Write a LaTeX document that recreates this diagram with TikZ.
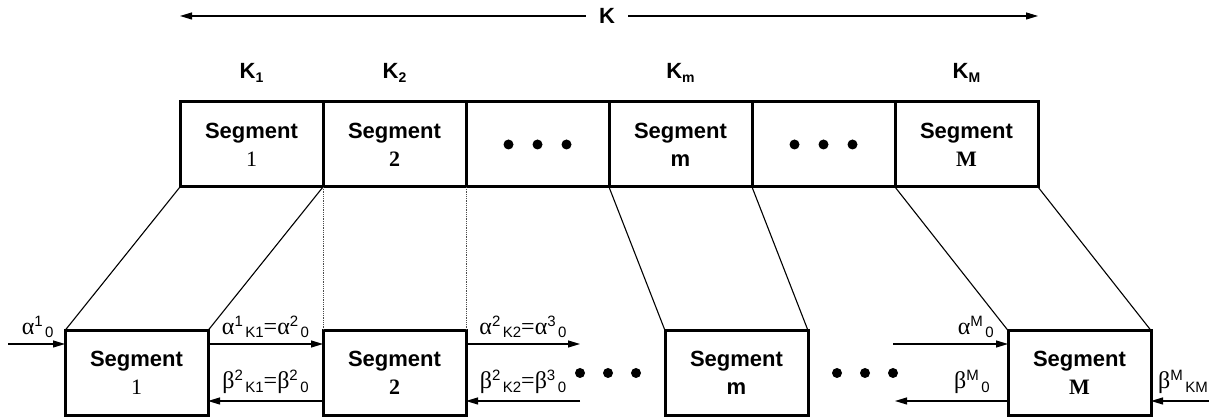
\documentclass[tikz,border=0pt]{standalone}
\usepackage{fontspec}
\setmainfont{Liberation Serif}
\setsansfont{Liberation Sans}
\usepackage{tikz}
\usetikzlibrary{arrows.meta, positioning, calc}

% two-line segment text, sub/superscript helpers
\newcommand{\segtxt}[1]{{\sffamily\bfseries Segment}\\#1}
\newcommand{\ksub}[1]{\raisebox{-0.3ex}{\fontsize{14}{14}\selectfont #1}}
\newcommand{\supsub}[3]{#1\raisebox{0.75ex}{\sffamily\fontsize{15}{15}\selectfont #2\,}\raisebox{-0.3ex}{\sffamily\fontsize{15}{15}\selectfont #3}}

\begin{document}
\begin{tikzpicture}[
    x=1pt, y=1pt,
    seg/.style={draw, line width=3pt, minimum width=143pt, minimum height=85pt,
      align=center, inner sep=0pt, outer sep=0pt, font=\fontsize{22}{28}\selectfont},
    klabel/.style={font=\sffamily\bfseries\fontsize{22}{24}\selectfont, inner sep=0pt},
    flow/.style={line width=1.1pt, -{Triangle[length=12pt,width=7pt]}},
    zoomline/.style={line width=1.1pt},
    zoomdot/.style={line width=0.8pt, densely dotted, black!70},
    flowlabel/.style={font=\fontsize{24}{26}\selectfont, inner sep=0pt},
  ]
    \useasboundingbox (0,0) rectangle (1209,419);

    % ── Top row (whole block K) ──
    \node[seg] (t-s1) at (251.5,274.5) {\segtxt{1}};
    \node[seg, right=0pt of t-s1] (t-s2) {\segtxt{\textbf{2}}};
    \node[seg, right=0pt of t-s2] (t-d1) {};
    \node[seg, right=0pt of t-d1] (t-sm) {\segtxt{\sffamily\bfseries m}};
    \node[seg, right=0pt of t-sm] (t-d2) {};
    \node[seg, right=0pt of t-d2] (t-sM) {\segtxt{\textbf{M}}};
    \foreach \n in {t-d1, t-d2}
      \foreach \dx in {-29,0,29}
        \fill ([xshift=\dx pt]\n.center) circle (5pt);

    % K arrow
    \node[klabel] (k) at (607,403) {K};
    \coordinate (k-left) at (k.center -| t-s1.west);
    \coordinate (k-right) at (k.center -| t-sM.east);
    \draw[flow, shorten <=13pt] (k.west) -- (k-left);
    \draw[flow, shorten <=13pt] (k.east) -- (k-right);

    % segment lengths
    \node[klabel] (k1) at ([yshift=29pt]t-s1.north) {K\ksub{1}};
    \node[klabel] (k2) at ([yshift=29pt]t-s2.north) {K\ksub{2}};
    \node[klabel] (km) at ([yshift=29pt]t-sm.north) {K\ksub{m}};
    \node[klabel] (kM) at ([yshift=29pt]t-sM.north) {K\ksub{M}};

    % ── Bottom row (single segments) ──
    \node[seg] (b-s1) at (136.5,46) {\segtxt{1}};
    \node[seg] (b-s2) at (394.5,46) {\segtxt{\textbf{2}}};
    \node[seg] (b-sm) at (736.5,46) {\segtxt{\sffamily\bfseries m}};
    \node[seg] (b-sM) at (1079.5,46) {\segtxt{\textbf{M}}};
    \foreach \cx in {608,865}
      \foreach \dx in {-28,0,28}
        \fill (\cx+\dx,46) circle (5pt);

    % zoom lines (top -> bottom)
    \draw[zoomline] (t-s1.south west) -- (b-s1.north west);
    \draw[zoomline] (t-s1.south east) -- (b-s1.north east);
    \draw[zoomdot] (t-s2.south west) -- (b-s2.north west);
    \draw[zoomdot] (t-s2.south east) -- (b-s2.north east);
    \draw[zoomline] (t-sm.south west) -- (b-sm.north west);
    \draw[zoomline] (t-sm.south east) -- (b-sm.north east);
    \draw[zoomline] (t-sM.south west) -- (b-sM.north west);
    \draw[zoomline] (t-sM.south east) -- (b-sM.north east);

    % free arrow ends
    \coordinate (a-in) at (8,75);
    \coordinate (a-out2) at (580,75);
    \coordinate (b-in2) at (580,18);
    \coordinate (a-inM) at (893,75);
    \coordinate (b-outM) at (895,18);
    \coordinate (b-inM) at (1209,18);

    % forward (alpha) arrows
    \draw[flow] (a-in) -- ([yshift=29pt]b-s1.west)
      node[flowlabel, pos=0.52, yshift=17pt] {\supsub{α}{1}{0}};
    \draw[flow] ([yshift=29pt]b-s1.east) -- ([yshift=29pt]b-s2.west)
      node[flowlabel, midway, yshift=17pt] {\supsub{α}{1}{K1}=\supsub{α}{2}{0}};
    \draw[flow] ([yshift=29pt]b-s2.east) -- (a-out2)
      node[flowlabel, midway, yshift=17pt] {\supsub{α}{2}{K2}=\supsub{α}{3}{0}};
    \draw[flow] (a-inM) -- ([yshift=29pt]b-sM.west)
      node[flowlabel, pos=0.72, yshift=17pt] {\supsub{α}{M}{0}};

    % backward (beta) arrows
    \draw[flow] ([yshift=-28pt]b-s2.west) -- ([yshift=-28pt]b-s1.east)
      node[flowlabel, midway, yshift=19pt] {\supsub{β}{2}{K1}=\supsub{β}{2}{0}};
    \draw[flow] (b-in2) -- ([yshift=-28pt]b-s2.east)
      node[flowlabel, midway, yshift=19pt] {\supsub{β}{2}{K2}=\supsub{β}{3}{0}};
    \draw[flow] ([yshift=-28pt]b-sM.west) -- (b-outM)
      node[flowlabel, pos=0.32, yshift=19pt] {\supsub{β}{M}{0}};
    \draw[flow] (b-inM) -- ([yshift=-28pt]b-sM.east)
      node[flowlabel, pos=0.45, yshift=19pt] {\supsub{β}{M}{KM}};
\end{tikzpicture}
\end{document}
